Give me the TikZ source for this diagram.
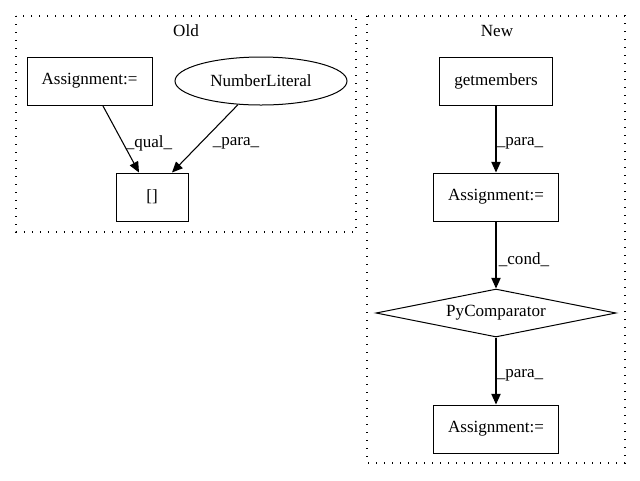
\documentclass[tikz,border=0pt]{standalone}
\usepackage{fontspec}
\setmainfont{Liberation Serif}
\usetikzlibrary{calc}
\usetikzlibrary{shapes,arrows,arrows.meta}
\tikzset{edge/.style={-{Triangle[length=8pt,width=7pt]},line width=0.8pt},
	cluster/.style={dash pattern=on 0.9pt off 5.1pt,line width=0.9pt},
}

\begin{document}
\begin{tikzpicture}[x=0.75pt,y=-0.75pt]
			\tikzstyle{every node}=[font=\fontsize{12.8}{14}\selectfont,inner sep=0pt,line width=0.75pt]
			\tikzstyle{box}=[draw,rectangle,minimum height=36pt]
			\useasboundingbox (0,0) rectangle (640,480);
			
			% old
			\draw[cluster] (16,16) rectangle (356,232);
			\node (oldlbl) at (186,31) {Old};
			\node[box,minimum width=93.75pt] (asgold) at (89.5,81) {Assignment:=};
			\node[draw,ellipse,minimum width=129pt,minimum height=36pt] (numlit) at (261,81) {NumberLiteral};
			\node[box,minimum width=54pt] (idx) at (152,197) {[]};
			
			\draw[edge] (asgold) -- ($(idx.north)+(-13,0)$);
			\draw[edge] (numlit) -- ($(idx.north)+(20,0)$);
			\node (qual) at (149,143) {\_qual\_};
			\node (paraold) at (236,143) {\_para\_};
			
			% new
			\draw[cluster] (367,16) rectangle (625,463);
			\node (newlbl) at (497,31) {New};
			\node[box,minimum width=84.75pt] (getm) at (496,81) {getmembers};
			\node[box,minimum width=93.75pt] (asgnew) at (496,197) {Assignment:=};
			\node[draw,diamond,shape aspect=5,minimum width=180pt,minimum height=36pt] (pycmp) at (496,313) {PyComparator};
			\node[box,minimum width=93.75pt] (asgend) at (496,429) {Assignment:=};
			
			\draw[edge] (getm) -- (asgnew);
			\draw[edge] (asgnew) -- (pycmp);
			\draw[edge] (pycmp) -- (asgend);
			\node (paranew) at (520,143) {\_para\_};
			\node (cond) at (524,260) {\_cond\_};
			\node (paraend) at (520,375) {\_para\_};
			
\end{tikzpicture}
\end{document}
